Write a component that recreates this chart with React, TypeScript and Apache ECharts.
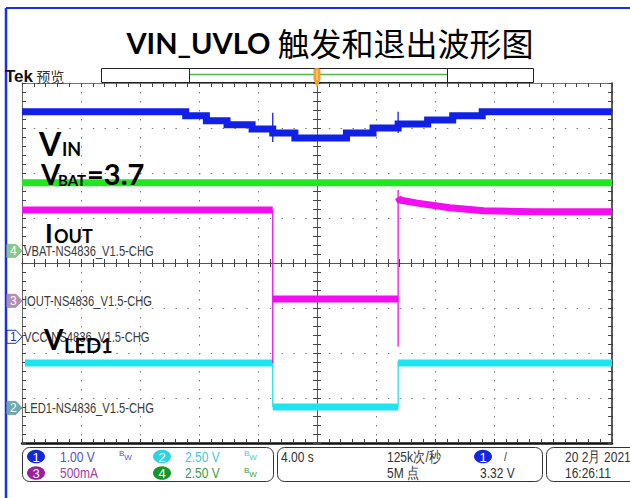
import React, { useEffect, useRef } from "react";
import * as echarts from "echarts";

// ---------- scope settings ----------
// time axis: seconds, 4 s/div, trigger at centre (10 divisions)
const timeMin = -20;
const timeMax = 20;
const timeDiv = 4;
// vertical: 8 divisions, centre = 0; channel scale per div and ground marker position (div from centre)
const chVin = { scale: 1.0, ground: -1.64 }; // ch1  1.00 V/div
const chLed = { scale: 2.5, ground: -3.22 }; // ch2  2.50 V/div
const chIout = { scale: 500, ground: -0.84 }; // ch3  500 mA/div
const chVbat = { scale: 2.5, ground: 0.27 }; // ch4  2.50 V/div

// ---------- data (s, V / mA) ----------
const vinTimes = [-20, -8.9, -7.5, -6.1, -4.4, -3.0, -1.5, 2.0, 3.8, 5.5, 7.5, 9.2, 11.2, 20];
const vinVolts = [5.0, 4.91, 4.8, 4.71, 4.62, 4.53, 4.42, 4.53, 4.64, 4.73, 4.82, 4.91, 5.0, 5.0];
const vinEdgeTimes = [-3.0, 5.5];
const vinEdgeFrom = [4.98, 5.0];
const vinEdgeTo = [4.33, 4.53];

const vbatTimes = [-20, 20];
const vbatVolts = [3.78, 3.78];

const ioutBeforeTimes = [-20, -3.0];
const ioutBefore = [1010, 1010];
const ioutOffTimes = [-3.0, 5.5];
const ioutOff = [20, 20];
const ioutAfterTimes = [5.5, 5.6, 6.8, 9.0, 11.3, 14.6, 20];
const ioutAfter = [1150, 1120, 1085, 1035, 1000, 990, 990];
const ioutEdgeTimes = [-3.0, 5.5];
const ioutEdgeFrom = [1010, -510];
const ioutEdgeTo = [-690, 1230];

const ledBeforeTimes = [-19.8, -3.0];
const ledBefore = [2.5, 2.5];
const ledOffTimes = [-3.0, 5.5];
const ledOff = [0.05, 0.05];
const ledAfterTimes = [5.5, 20];
const ledAfter = [2.5, 2.5];
const ledEdgeTimes = [-3.0, 5.5];
const ledEdgeFrom = [2.5, 0.05];
const ledEdgeTo = [0.05, 2.6];

// ---------- texts ----------
const titleLatin = "VIN_UVLO";
const titleCjk = "触发和退出波形图";
const channelLabels = [
  "VBAT-NS4836_V1.5-CHG",
  "IOUT-NS4836_V1.5-CHG",
  "VCC-NS4836_V1.5-CHG",
  "LED1-NS4836_V1.5-CHG",
];

// ---------- layout ----------
const GRID_LEFT = 22;
const GRID_TOP = 83;
const GRID_W = 590;
const GRID_H = 360;
const DIV_H = GRID_H / 8;
const yOfDiv = (d: number) => GRID_TOP + GRID_H / 2 - d * DIV_H;

const COL = {
  blue: "#1020e6",
  green: "#22e622",
  magenta: "#f20ef0",
  cyan: "#1ee4f0",
};

const SANS = '"Liberation Sans", Arial, sans-serif';
const CJK = '"Noto Sans CJK SC", sans-serif';
const NARROW_SCALE = 0.8;

type Ch = { scale: number; ground: number };
const toDiv = (ch: Ch, v: number) => ch.ground + v / ch.scale;

function band(ch: Ch, ts: number[], vs: number[], color: string, step = false, width = 7) {
  return {
    type: "line",
    xAxisIndex: 0,
    yAxisIndex: 0,
    data: ts.map((t, i) => [t, toDiv(ch, vs[i])]),
    step: step ? "end" : false,
    symbol: "none",
    showSymbol: false,
    silent: true,
    lineStyle: { color, width, cap: "butt", join: "miter" },
    z: 3,
  };
}

function edges(ch: Ch, ts: number[], from: number[], to: number[], color: string) {
  return ts.map((t, i) => ({
    type: "line",
    xAxisIndex: 0,
    yAxisIndex: 0,
    data: [
      [t, toDiv(ch, from[i])],
      [t, toDiv(ch, to[i])],
    ],
    symbol: "none",
    showSymbol: false,
    silent: true,
    lineStyle: { color, width: 1.3 },
    z: 3,
  }));
}

const tickStyle = { color: "#444", width: 1 };
const gridDot = "#7a7a7a";

function xAxisDef(extra: any) {
  return {
    type: "value",
    min: timeMin,
    max: timeMax,
    interval: timeDiv,
    axisLabel: { show: false },
    splitLine: { show: false },
    axisTick: { show: true, inside: true, length: 4, lineStyle: tickStyle },
    minorTick: { show: true, splitNumber: 5, length: 4, lineStyle: tickStyle },
    ...extra,
  };
}
function yAxisDef(extra: any) {
  return {
    type: "value",
    min: -4,
    max: 4,
    interval: 1,
    axisLabel: { show: false },
    splitLine: { show: false },
    axisTick: { show: true, inside: true, length: 4, lineStyle: tickStyle },
    minorTick: { show: true, splitNumber: 5, length: 4, lineStyle: tickStyle },
    ...extra,
  };
}

function txt(x: number, y: number, text: string, fill: string, font: string, fontSize: number, extra: any = {}, sx = 1) {
  return {
    type: "text",
    x,
    y,
    scaleX: sx,
    z: 100,
    silent: true,
    style: {
      text,
      fill,
      fontFamily: font,
      fontSize,
      align: "left",
      verticalAlign: "middle",
      ...extra,
    },
  };
}

function tag(y: number, num: string, fill: string, stroke: string, numColor: string) {
  return [
    {
      type: "polygon",
      z: 100,
      shape: {
        points: [
          [7, y - 6.5],
          [16, y - 6.5],
          [22, y],
          [16, y + 6.5],
          [7, y + 6.5],
        ],
      },
      style: { fill, stroke, lineWidth: 1 },
    },
    txt(10, y + 0.5, num, numColor, SANS, 12),
  ];
}

function chip(cx: number, cy: number, num: string, fill: string) {
  return [
    { type: "ellipse", z: 100, shape: { cx, cy, rx: 9, ry: 6.8 }, style: { fill } },
    txt(cx, cy + 0.5, num, "#ffffff", SANS, 13, { align: "center" }),
  ];
}

function bw(x: number, y: number, color: string) {
  return {
    type: "text",
    x,
    y,
    z: 100,
    style: {
      text: "{a|B}{b|W}",
      fill: color,
      verticalAlign: "middle",
      rich: {
        a: { fontSize: 8, fontFamily: SANS, fill: color, verticalAlign: "top" },
        b: { fontSize: 8, fontFamily: SANS, fill: color, padding: [4, 0, 0, 0] },
      },
    },
  };
}

function buildGraphic() {
  const els: any[] = [];
  // slide frame
  els.push({ type: "line", z: 100, shape: { x1: 6, y1: 8, x2: 630, y2: 8 }, style: { stroke: "#1a2ee8", lineWidth: 2 } });
  els.push({ type: "line", z: 100, shape: { x1: 6, y1: 8, x2: 6, y2: 498 }, style: { stroke: "#1a2ee8", lineWidth: 2.5 } });

  // title
  els.push({
    type: "text",
    x: 330,
    y: 42,
    z: 100,
    style: {
      text: `{a|${titleLatin} }{b|${titleCjk}}`,
      align: "center",
      verticalAlign: "middle",
      fill: "#000",
      rich: {
        a: { fontFamily: "Lato", fontWeight: "bold", fontSize: 29, fill: "#000", lineHeight: 36 },
        b: { fontFamily: CJK, fontWeight: "normal", fontSize: 32, fill: "#000", lineHeight: 36 },
      },
    },
  });

  // Tek header
  els.push({
    type: "text",
    x: 5,
    y: 76,
    z: 100,
    style: {
      text: "{t|Tek}{p| 预览}",
      verticalAlign: "middle",
      rich: {
        t: { fontFamily: SANS, fontWeight: "bold", fontSize: 17, fill: "#111" },
        p: { fontFamily: CJK, fontSize: 14, fill: "#333" },
      },
    },
  });
  els.push({ type: "rect", z: 100, shape: { x: 101.5, y: 68.5, width: 432, height: 14 }, style: { fill: "#fff", stroke: "#222", lineWidth: 1 } });
  els.push({ type: "line", z: 101, shape: { x1: 189.5, y1: 68.5, x2: 189.5, y2: 82.5 }, style: { stroke: "#222", lineWidth: 1 } });
  els.push({ type: "line", z: 101, shape: { x1: 447.5, y1: 68.5, x2: 447.5, y2: 82.5 }, style: { stroke: "#222", lineWidth: 1 } });
  els.push({ type: "line", z: 101, shape: { x1: 190, y1: 74.5, x2: 447, y2: 74.5 }, style: { stroke: "#4cb84c", lineWidth: 1.5 } });
  // trigger position marker
  els.push({ type: "rect", z: 102, shape: { x: 313.5, y: 68, width: 7, height: 13, r: 3 }, style: { fill: "#f5a030" } });
  els.push({ type: "polygon", z: 102, shape: { points: [[313.5, 79], [320.5, 79], [317, 88]] }, style: { fill: "#f5a030" } });
  els.push({ type: "line", z: 103, shape: { x1: 317, y1: 70, x2: 317, y2: 80 }, style: { stroke: "#fde2b8", lineWidth: 1 } });

  // channel ground tags and labels
  const tags = [
    { ch: chVbat, num: "4", fill: "#86c986", stroke: "#86c986", numColor: "#ffffff", label: channelLabels[0] },
    { ch: chIout, num: "3", fill: "#b38db3", stroke: "#b38db3", numColor: "#ffffff", label: channelLabels[1] },
    { ch: chVin, num: "1", fill: "#ffffff", stroke: "#2030c0", numColor: "#2030c0", label: channelLabels[2] },
    { ch: chLed, num: "2", fill: "#6fa9a9", stroke: "#6fa9a9", numColor: "#ffffff", label: channelLabels[3] },
  ];
  tags.forEach((t) => {
    const y = yOfDiv(t.ch.ground);
    els.push(...tag(y, t.num, t.fill, t.stroke, t.numColor));
    els.push(txt(24, y + 0.5, t.label, "#3a3a3a", SANS, 14, {}, NARROW_SCALE));
  });

  // big annotations
  const B = { fontWeight: "bold", verticalAlign: "bottom" };
  els.push(txt(39, 159, "V", "#000", "Lato", 32, B));
  els.push(txt(62, 158, "IN", "#000", "Lato", 18, B));
  els.push(txt(41, 188, "V", "#000", "Lato", 28, B));
  els.push(txt(58, 187, "BAT", "#000", "Lato", 15, B));
  els.push(txt(87, 188, "=3.7", "#000", "Lato", 29, B));
  els.push(txt(45, 246, "I", "#000", "Lato", 26, B));
  els.push(txt(54, 245, "OUT", "#000", "Lato", 18, B));
  els.push(txt(44, 353, "V", "#000", "Lato", 28, B));
  els.push(txt(64, 355, "LED1", "#000", "Lato", 20, B));

  // status bar
  const boxStyle = { fill: "#fff", stroke: "#333", lineWidth: 1 };
  els.push({ type: "rect", z: 99, shape: { x: 22.5, y: 447.5, width: 251, height: 34, r: 7 }, style: boxStyle });
  els.push({ type: "rect", z: 99, shape: { x: 277.5, y: 447.5, width: 265, height: 34, r: 7 }, style: boxStyle });
  els.push({ type: "rect", z: 99, shape: { x: 546.5, y: 447.5, width: 100, height: 34, r: 7 }, style: boxStyle });

  els.push(...chip(36, 456.5, "1", "#1428d8"));
  els.push(...chip(36, 473, "3", "#9c1fa0"));
  els.push(...chip(162, 456.5, "2", "#2ed2e2"));
  els.push(...chip(162, 473, "4", "#15952a"));
  els.push(...chip(483, 456.5, "1", "#1428d8"));

  const S = NARROW_SCALE;
  els.push(txt(60, 457, "1.00 V", "#5552c8", SANS, 15, {}, S));
  els.push(txt(60, 473, "500mA", "#a040a8", SANS, 15, {}, S));
  els.push(txt(185, 457, "2.50 V", "#45c8d6", SANS, 15, {}, S));
  els.push(txt(185, 473, "2.50 V", "#3d9a45", SANS, 15, {}, S));
  els.push(bw(119, 455, "#5552c8"));
  els.push(bw(244, 455, "#45c8d6"));
  els.push(bw(244, 472, "#3d9a45"));
  els.push(txt(281, 457, "4.00 s", "#333", SANS, 15, {}, S));
  els.push(txt(387, 457, "125k次/秒", "#333", SANS, 15, {}, S));
  els.push(txt(387, 473, "5M 点", "#333", SANS, 15, {}, S));
  els.push(txt(504, 456, "/", "#333", SANS, 13, {}, S));
  els.push(txt(480, 473, "3.32 V", "#333", SANS, 15, {}, S));
  els.push(txt(565, 457, "20 2月 2021", "#333", SANS, 15, {}, S));
  els.push(txt(565, 473, "16:26:11", "#333", SANS, 15, {}, S));
  return els;
}

export default function App() {
  const ref = useRef<HTMLDivElement>(null);
  useEffect(() => {
    if (!ref.current) return;
    const chart = echarts.init(ref.current, undefined, { renderer: "svg" });
    const series: any[] = [
      band(chLed, ledBeforeTimes, ledBefore, COL.cyan),
      band(chLed, ledOffTimes, ledOff, COL.cyan),
      band(chLed, ledAfterTimes, ledAfter, COL.cyan),
      ...edges(chLed, ledEdgeTimes, ledEdgeFrom, ledEdgeTo, COL.cyan),
      band(chVin, vinTimes, vinVolts, COL.blue, true),
      ...edges(chVin, vinEdgeTimes, vinEdgeFrom, vinEdgeTo, COL.blue),
      band(chVbat, vbatTimes, vbatVolts, COL.green),
      band(chIout, ioutBeforeTimes, ioutBefore, COL.magenta),
      band(chIout, ioutOffTimes, ioutOff, COL.magenta),
      band(chIout, ioutAfterTimes, ioutAfter, COL.magenta),
      ...edges(chIout, ioutEdgeTimes, ioutEdgeFrom, ioutEdgeTo, COL.magenta),
    ];
    const option: any = {
      animation: false,
      backgroundColor: "#ffffff",
      grid: { left: GRID_LEFT, top: GRID_TOP, width: GRID_W, height: GRID_H, show: false },
      xAxis: [
        xAxisDef({
          position: "bottom",
          axisLine: { onZero: true, onZeroAxisIndex: 0, lineStyle: { color: "#555", width: 1 } },
          splitLine: { show: true, lineStyle: { color: gridDot, width: 1, type: [1.5, 7.5] } },
        }),
        xAxisDef({
          position: "bottom",
          axisLine: { onZero: true, onZeroAxisIndex: 0, lineStyle: { color: "#555", width: 1 } },
          axisTick: { show: true, inside: false, length: 4, lineStyle: tickStyle },
          minorTick: { show: true, splitNumber: 5, length: 4, lineStyle: tickStyle },
        }),
        xAxisDef({ position: "top", axisLine: { onZero: false, lineStyle: { color: "#777", width: 1 } } }),
        xAxisDef({ position: "bottom", axisLine: { onZero: false, lineStyle: { color: "#111", width: 2.5 } } }),
      ],
      yAxis: [
        yAxisDef({
          position: "left",
          axisLine: { onZero: true, onZeroAxisIndex: 0, lineStyle: { color: "#555", width: 1 } },
          splitLine: { show: true, lineStyle: { color: gridDot, width: 1, type: [1.5, 10.3] } },
        }),
        yAxisDef({
          position: "left",
          axisLine: { onZero: true, onZeroAxisIndex: 0, lineStyle: { color: "#555", width: 1 } },
          axisTick: { show: true, inside: false, length: 4, lineStyle: tickStyle },
          minorTick: { show: true, splitNumber: 5, length: 4, lineStyle: tickStyle },
        }),
        yAxisDef({ position: "left", axisLine: { onZero: false, lineStyle: { color: "#666", width: 1 } } }),
        yAxisDef({ position: "right", axisLine: { onZero: false, lineStyle: { color: "#222", width: 1.5 } } }),
      ],
      series,
      graphic: { elements: buildGraphic() },
    };
    chart.setOption(option);
    return () => chart.dispose();
  }, []);
  return (
    <div
      ref={ref}
      style={{ position: "fixed", left: 0, top: 0, width: 630, height: 498, background: "#fff" }}
    />
  );
}
